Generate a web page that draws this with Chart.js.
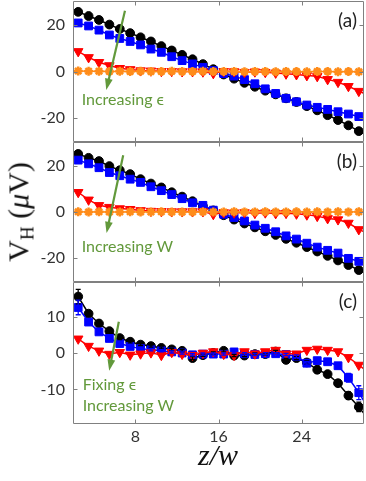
<!DOCTYPE html>
<html>
<head>
<meta charset="utf-8">
<script src="https://cdn.jsdelivr.net/npm/chart.js@4.4.1/dist/chart.umd.min.js"></script>
<style>
  body { margin: 0; background: #fff; }
  #wrap { position: relative; width: 366px; height: 481px; overflow: hidden; }
  .pane { position: absolute; left: 0; width: 366px; }
  #ylab { position: absolute; left: 20px; top: 212px; transform: translate(-50%, -50%) rotate(-90deg);
          font: 30px "Liberation Serif", serif; white-space: nowrap; color: #111; }
  #ylab sub { font-size: 19px; vertical-align: -5px; }
  #xlab { position: absolute; left: 218px; top: 455px; transform: translate(-50%, -50%);
          font: italic 30px "Liberation Serif", serif; white-space: nowrap; color: #111; }
</style>
</head>
<body>
<div id="wrap">
  <div class="pane" style="top:0;height:142px"><canvas id="panelA"></canvas></div>
  <div class="pane" style="top:141px;height:141px"><canvas id="panelB"></canvas></div>
  <div class="pane" style="top:281px;height:200px"><canvas id="panelC"></canvas></div>
  <div id="ylab">V<sub>H</sub> (<i>μ</i>V)</div>
  <div id="xlab">z/w</div>
</div>
<script>
/* ── data: positions along the sample (z/w) ─────────────── */
const zPos = [2.5, 3.5, 4.5, 5.5, 6.5, 7.5, 8.5, 9.5, 10.5, 11.5, 12.5, 13.5, 14.5, 15.5,
              16.5, 17.5, 18.5, 19.5, 20.5, 21.5, 22.5, 23.5, 24.5, 25.5, 26.5, 27.5, 28.5, 29.5, 30.5];
const xTicks = [8, 16, 24];

// (a) increasing epsilon
const blackA  = [25.8, 24.0, 22.3, 20.3, 18.4, 16.6, 14.8, 13.0, 11.0, 9.1, 7.2, 5.3, 3.2, 1.0,
                 -1.3, -3.1, -4.9, -6.6, -8.3, -9.9, -11.6, -13.2, -15.0, -16.8, -18.9, -21.0, -23.3, -25.8, -27.8];
const blueA   = [21.0, 19.7, 17.9, 15.8, 14.3, 13.0, 11.5, 9.7, 8.3, 6.4, 4.7, 3.3, 1.8, 0.4,
                 -0.9, -2.0, -3.5, -5.3, -7.5, -9.5, -11.6, -13.1, -14.5, -15.5, -16.4, -17.4, -18.4, -19.5, -20.7];
const redA    = [8.7, 6.1, 4.0, 2.6, 1.4, 0.9, 0.4, 0.3, 0.1, 0.1, 0.0, 0.0, -0.1, -0.8,
                 0.1, 0.0, -0.3, -0.1, -0.3, -0.6, -1.0, -1.3, -1.7, -2.1, -3.4, -4.6, -6.4, -8.5, -10.4];
const orangeA = [0.2, 0.1, 0.1, 0.0, 0.1, 0.0, 0.1, 0.0, 0.0, 0.1, 0.0, 0.0, 0.1, 0.0,
                 0.0, 0.0, -0.1, 0.0, 0.0, -0.1, 0.0, 0.0, -0.1, 0.0, 0.0, -0.1, 0.0, -0.1, -0.1];

// (b) increasing W
const blackB  = [25.3, 23.6, 22.2, 20.0, 18.2, 16.5, 14.3, 12.4, 10.7, 8.6, 6.7, 4.7, 2.6, 0.7,
                 -1.4, -3.3, -5.0, -6.7, -8.4, -10.0, -11.7, -13.4, -15.3, -17.2, -19.1, -21.1, -23.1, -25.3, -27.2];
const blueB   = [22.6, 21.0, 19.3, 17.2, 15.8, 14.3, 12.9, 11.0, 9.3, 7.6, 5.8, 4.0, 2.9, 0.8,
                 -1.0, -2.4, -3.9, -5.7, -7.1, -8.6, -10.4, -11.8, -13.6, -15.3, -16.7, -17.9, -20.2, -21.5, -22.8];
const redB    = [8.6, 5.3, 2.9, 2.1, 1.5, 1.2, 0.7, 0.4, 0.3, 0.2, 0.2, 0.2, 0.2, -1.0,
                 -0.2, -0.3, -0.2, -0.5, -0.3, -0.6, -0.5, -0.8, -1.2, -1.8, -2.8, -3.3, -4.8, -7.6, -9.6];
const orangeB = [0.1, 0.0, 0.1, 0.0, 0.0, 0.1, 0.0, 0.0, 0.1, 0.0, 0.0, 0.0, 0.1, 0.0,
                 0.0, 0.1, 0.0, 0.0, 0.1, 0.0, 0.0, 0.1, 0.0, 0.1, 0.0, 0.1, 0.0, 0.1, 0.1];

// (c) fixing epsilon, increasing W  (+ error bars)
const blackC  = [15.5, 10.8, 8.1, 6.0, 4.1, 3.1, 2.3, 1.9, 1.4, 1.0, 0.6, -1.4, -0.6, 0.0,
                 0.6, -0.7, -0.7, -0.3, -0.3, 0.4, -1.9, -1.4, -2.6, -4.6, -5.8, -8.3, -11.7, -14.8, -18.5];
const blueC   = [12.5, 8.5, 5.8, 4.0, 2.6, 1.8, 1.2, 0.9, 0.6, 0.3, 0.0, -0.5, -0.3, -0.3,
                 -0.3, 0.3, -0.2, -0.4, -0.2, -0.2, -0.4, -0.9, -2.8, -2.1, -2.4, -3.5, -6.8, -10.9, -15.5];
const redC    = [3.9, 1.9, 0.6, -0.3, 0.2, -0.5, -0.2, 0.1, -0.6, 0.2, -0.3, -0.6, 0.0, 0.4,
                 -0.3, -0.6, 0.4, -0.2, 0.4, 0.8, -0.2, -0.2, 0.8, 1.1, 0.8, 0.4, -1.2, -3.3, -5.5];
const blackErrC = [2.0, 0.8, 0.6, 0.5, 0.4, 0.3, 0.3, 0.3, 0.3, 0.3, 0.3, 0.4, 0.3, 0.3,
                   0.3, 0.3, 0.3, 0.3, 0.3, 0.3, 0.4, 0.4, 0.5, 1.0, 0.6, 0.8, 1.0, 1.3, 2.0];
const blueErrC  = [2.0, 0.8, 0.6, 0.5, 0.4, 0.3, 0.3, 0.3, 0.3, 0.3, 0.3, 0.3, 0.3, 0.3,
                   0.3, 0.3, 0.3, 0.3, 0.3, 0.3, 0.3, 0.4, 0.5, 0.6, 0.6, 0.8, 1.2, 1.9, 2.2];

const GREEN = '#62993b';

// ── helpers ────────────────────────────────────────────
const pts = vals => vals.map((v, i) => ({ x: zPos[i], y: v }));

function series(vals, color, style, extra = {}) {
    return Object.assign({
        data: pts(vals),
        borderColor: color,
        backgroundColor: color,
        borderWidth: 1.5,
        pointStyle: style,
        pointRadius: 4.5,
        pointBorderWidth: 1,
        pointBackgroundColor: color,
        pointBorderColor: color,
        tension: 0
    }, extra);
}

// vertical error bars for datasets carrying an `errs` array
const errorBars = {
    id: 'errorBars',
    afterDatasetsDraw(chart) {
        const { ctx, chartArea: a, scales: { x, y } } = chart;
        ctx.save();
        ctx.beginPath();
        ctx.rect(a.left, a.top, a.right - a.left, a.bottom - a.top);
        ctx.clip();
        chart.data.datasets.forEach(ds => {
            if (!ds.errs) return;
            ctx.strokeStyle = ds.borderColor;
            ctx.lineWidth = 1.3;
            ctx.beginPath();
            ds.data.forEach((p, i) => {
                const px = x.getPixelForValue(p.x);
                const top = y.getPixelForValue(p.y + ds.errs[i]);
                const bot = y.getPixelForValue(p.y - ds.errs[i]);
                ctx.moveTo(px, top); ctx.lineTo(px, bot);
                ctx.moveTo(px - 2.5, top); ctx.lineTo(px + 2.5, top);
                ctx.moveTo(px - 2.5, bot); ctx.lineTo(px + 2.5, bot);
            });
            ctx.stroke();
        });
        ctx.restore();
    }
};

// frame with inward ticks (MATLAB look), green arrow + notes, panel letter
const panelDeco = {
    id: 'panelDeco',
    afterDraw(chart, args, o) {
        const { ctx, chartArea: a, scales: { x, y } } = chart;
        ctx.save();

        ctx.strokeStyle = '#808080';
        ctx.lineWidth = 1;
        const L = Math.round(a.left) + 0.5, R = Math.round(a.right) - 0.5;
        const T = Math.round(a.top) + 0.5, B = Math.round(a.bottom) - 0.5;
        ctx.beginPath();
        ctx.rect(L, T, R - L, B - T);
        xTicks.forEach(v => {
            const px = Math.round(x.getPixelForValue(v)) + 0.5;
            ctx.moveTo(px, T); ctx.lineTo(px, T + 4);
            ctx.moveTo(px, B); ctx.lineTo(px, B - 4);
        });
        o.yTicks.forEach(v => {
            const py = Math.round(y.getPixelForValue(v)) + 0.5;
            ctx.moveTo(L, py); ctx.lineTo(L + 4, py);
            ctx.moveTo(R, py); ctx.lineTo(R - 4, py);
        });
        ctx.stroke();

        const x0 = x.getPixelForValue(o.arrow[0]), y0 = y.getPixelForValue(o.arrow[1]);
        const x1 = x.getPixelForValue(o.arrow[2]), y1 = y.getPixelForValue(o.arrow[3]);
        const ang = Math.atan2(y1 - y0, x1 - x0);
        const head = 12;
        ctx.strokeStyle = GREEN;
        ctx.fillStyle = GREEN;
        ctx.lineWidth = 2.2;
        ctx.beginPath();
        ctx.moveTo(x0, y0);
        ctx.lineTo(x1 - Math.cos(ang) * head * 0.8, y1 - Math.sin(ang) * head * 0.8);
        ctx.stroke();
        ctx.beginPath();
        ctx.moveTo(x1, y1);
        ctx.lineTo(x1 - head * Math.cos(ang - 0.33), y1 - head * Math.sin(ang - 0.33));
        ctx.lineTo(x1 - head * Math.cos(ang + 0.33), y1 - head * Math.sin(ang + 0.33));
        ctx.closePath();
        ctx.fill();

        ctx.font = '16px Lato, sans-serif';
        ctx.textBaseline = 'middle';
        ctx.textAlign = 'left';
        o.lines.forEach(l => ctx.fillText(l[0], x.getPixelForValue(l[1]), y.getPixelForValue(l[2])));

        ctx.fillStyle = '#222';
        ctx.font = '19px Lato, sans-serif';
        ctx.textAlign = 'right';
        ctx.fillText(o.letter, a.right - 7, a.top + 20);
        ctx.restore();
    }
};

function makePanel(id, sets, yMin, yMax, yTicks, deco, last) {
    const tickFont = { family: 'Lato', size: 16 };
    deco.yTicks = yTicks;
    new Chart(document.getElementById(id), {
        type: 'line',
        data: { datasets: sets },
        plugins: [errorBars, panelDeco],
        options: {
            responsive: true,
            maintainAspectRatio: false,
            animation: false,
            layout: { autoPadding: false, padding: { top: 1, right: 2, left: 0, bottom: 0 } },
            plugins: { legend: { display: false }, tooltip: { enabled: false }, panelDeco: deco },
            scales: {
                x: {
                    type: 'linear', min: 2, max: 30,
                    afterBuildTicks: s => { s.ticks = xTicks.map(v => ({ value: v })); },
                    afterFit: s => { s.height = last ? 57 : 0; s.paddingLeft = 0; s.paddingRight = 0; },
                    grid: { display: false, drawTicks: false },
                    border: { display: false },
                    ticks: { display: last, color: '#333', font: tickFont, padding: 3, maxRotation: 0 }
                },
                y: {
                    min: yMin, max: yMax,
                    afterBuildTicks: s => { s.ticks = yTicks.map(v => ({ value: v })); },
                    afterFit: s => { s.width = 73; s.paddingTop = 0; s.paddingBottom = 0; },
                    grid: { display: false, drawTicks: false },
                    border: { display: false },
                    ticks: { color: '#333', font: tickFont, padding: 8 }
                }
            }
        }
    });
}

function fourSets(k, b, r, o, kErr, bErr) {
    const list = [
        series(k, '#000000', 'circle', { order: 4, pointRadius: 4.4, errs: kErr }),
        series(b, '#0000ff', 'rect',   { order: 3, pointRadius: 5.5, errs: bErr }),
        series(r, '#ff0000', 'triangle', { order: 2, pointRadius: 5.5, pointRotation: 180 })
    ];
    if (o) list.push(series(o, '#ff8c1a', 'star', { order: 1, pointRadius: 4.5, pointBorderWidth: 2.5 }));
    return list;
}

makePanel('panelA', fourSets(blackA, blueA, redA, orangeA), -30.5, 30.5, [-20, 0, 20],
    { arrow: [7.0, 26.3, 5.2, -8.0], lines: [['Increasing ϵ', 2.83, -12.3]], letter: '(a)' }, false);
makePanel('panelB', fourSets(blackB, blueB, redB, orangeB), -30.5, 30.5, [-20, 0, 20],
    { arrow: [6.83, 24.7, 5.23, -9.2], lines: [['Increasing W', 2.83, -15.0]], letter: '(b)' }, false);
makePanel('panelC', fourSets(blackC, blueC, redC, null, blackErrC, blueErrC), -19.5, 19.5, [-10, 0, 10],
    { arrow: [6.41, 8.6, 5.48, -4.9], lines: [['Fixing ϵ', 2.93, -8.8], ['Increasing W', 2.93, -14.5]], letter: '(c)' }, true);
</script>
</body>
</html>
